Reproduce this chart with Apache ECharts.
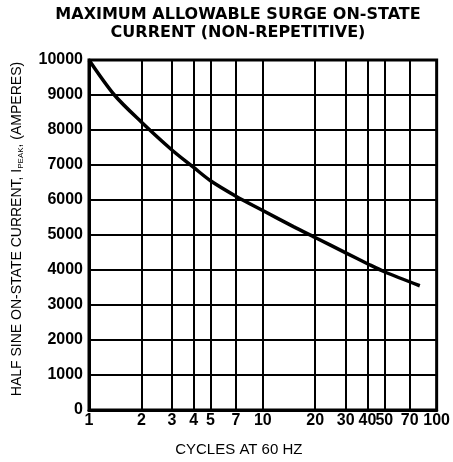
<!DOCTYPE html>
<html>
<head>
<meta charset="utf-8">
<script src="https://cdn.jsdelivr.net/npm/echarts@6/dist/echarts.min.js"></script>
<style>html,body{margin:0;padding:0;background:#fff;}#c{width:453px;height:462px;}</style>
</head>
<body>
<div id="c"></div>
<script>
const titleLines = ['MAXIMUM ALLOWABLE SURGE ON-STATE', 'CURRENT (NON-REPETITIVE)'];
const xAxisName = 'CYCLES AT 60 HZ';
const yAxisName = 'HALF SINE ON-STATE CURRENT, I{sub|PEAK}, (AMPERES)';
const xTicks = [1, 2, 3, 4, 5, 7, 10, 20, 30, 40, 50, 70, 100];
const yMin = 0, yMax = 10000, yStep = 1000;
const cycles = [1, 1.4, 2, 3, 4, 5, 7, 10, 15, 20, 30, 40, 50, 80];
const current = [10000, 9000, 8230, 7430, 6930, 6550, 6110, 5700, 5240, 4930, 4490, 4180, 3950, 3550];

const chart = echarts.init(document.getElementById('c'), null, {renderer: 'canvas'});
const font = '"Liberation Sans", Arial, sans-serif';
chart.setOption({
  animation: false,
  backgroundColor: '#fff',
  graphic: [{
    type: 'text', x: 238, y: 6,
    style: { text: titleLines.join('\n'), font: 'bold 16px "DejaVu Sans", sans-serif', fill: '#000', align: 'center', lineHeight: 18 }
  }],
  grid: { left: 89, right: 16, top: 60, bottom: 50, show: true, borderColor: '#000', borderWidth: 3 },
  xAxis: {
    type: 'log', logBase: 10, min: 1, max: 100,
    name: xAxisName, nameLocation: 'middle', nameGap: 32,
    nameTextStyle: { color: '#000', fontSize: 15, fontFamily: font, padding: [0, 48, 0, 0] },
    axisLine: { lineStyle: { color: '#000', width: 3 } },
    axisTick: { show: false, customValues: xTicks },
    axisLabel: { customValues: xTicks, color: '#000', fontWeight: 'bold', fontSize: 16, fontFamily: font, margin: 3 },
    splitLine: { show: true, customValues: xTicks, lineStyle: { color: '#000', width: 2 } },
    minorSplitLine: { show: false }
  },
  yAxis: {
    type: 'value', min: yMin, max: yMax, interval: yStep,
    name: yAxisName, nameLocation: 'middle', nameGap: 64, nameRotate: 90,
    nameTextStyle: { color: '#000', fontSize: 14, fontFamily: font, padding: [0, 0, 0, 12],
      rich: { sub: { fontSize: 8, verticalAlign: 'bottom', color: '#000', fontFamily: font, padding: [7, 0, 0, 0] } } },
    axisLine: { show: true, lineStyle: { color: '#000', width: 3 } },
    axisTick: { show: false },
    axisLabel: { color: '#000', fontWeight: 'bold', fontSize: 16, fontFamily: font, margin: 6, formatter: v => String(v) },
    splitLine: { show: true, lineStyle: { color: '#000', width: 2 } }
  },
  series: [{
    type: 'line', data: cycles.map((c, i) => [c, current[i]]),
    smooth: 0.3, showSymbol: false,
    lineStyle: { color: '#000', width: 3.5 }
  }]
});
</script>
</body>
</html>
